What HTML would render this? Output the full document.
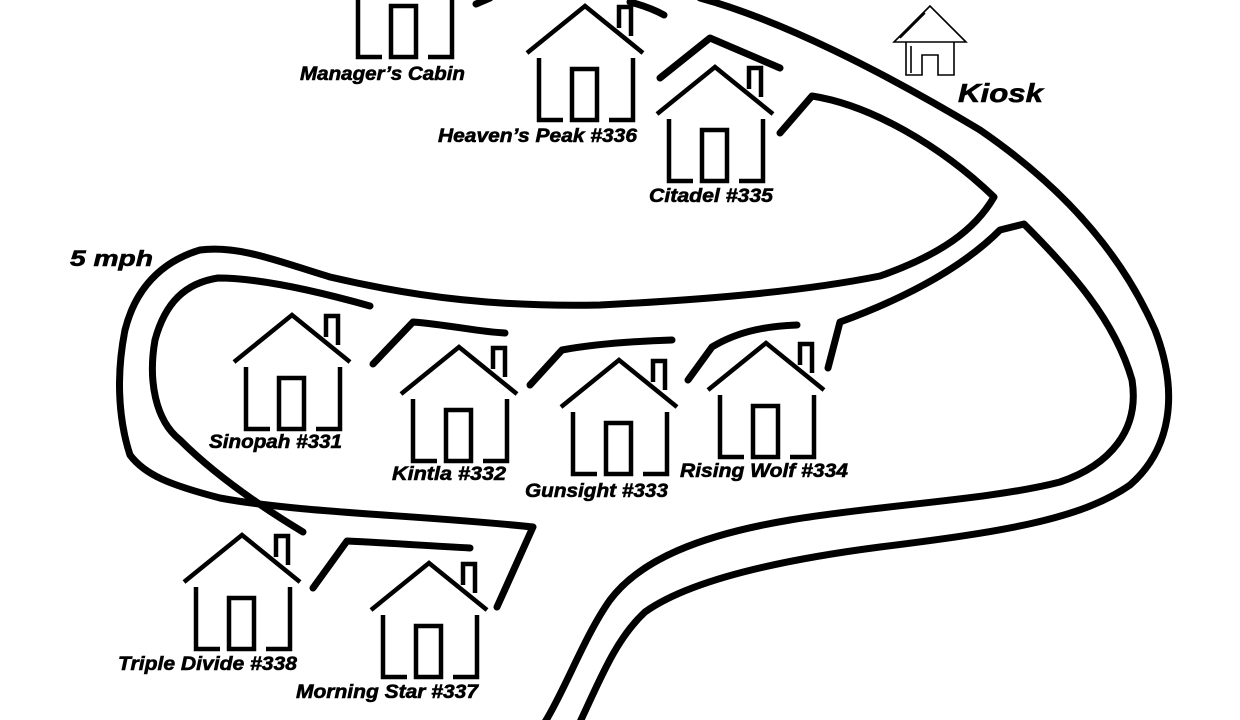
<!DOCTYPE html>
<html><head><meta charset="utf-8"><style>
html,body{margin:0;padding:0;background:#fff;}
svg{display:block;}
text{font-family:"Liberation Sans",sans-serif;font-weight:bold;font-style:italic;font-size:19px;fill:#000;stroke:#000;stroke-width:0.6;}
</style></head><body>
<svg width="1240" height="720" viewBox="0 0 1240 720" xmlns="http://www.w3.org/2000/svg">
<defs>
<g id="h" fill="none" stroke="#000" stroke-width="4.5">
<polyline points="-58,47 0,0 58,47" stroke-linejoin="miter"/>
<polyline points="34,22 34,1 46,1 46,30"/>
<polyline points="-46,52 -46,114 -22,114"/>
<polyline points="48,52 48,114 24,114"/>
<rect x="-13" y="63" width="25" height="51"/>
</g>
</defs>
<g fill="none" stroke="#000" stroke-width="7" stroke-linecap="round" stroke-linejoin="round">
<path d="M700,-2 C780,20 880,70 980,130 C1060,185 1120,250 1155,330 C1180,395 1170,450 1130,485 C1080,520 1000,532 880,547 C780,560 690,580 645,612 C615,640 600,680 580,722"/>
<path d="M828,368 L840,322 C900,300 960,270 1000,230 L1024,224 C1070,270 1115,320 1132,380 C1140,430 1110,465 1060,482 C990,500 880,505 790,520 C700,535 640,560 610,600 C585,635 565,690 545,722"/>
<path d="M780,133 L812,96 C870,105 940,145 994,197 C975,230 940,255 880,276 C800,292 700,300 600,305 C500,307 420,298 330,277 C280,262 240,245 200,250 C160,262 135,290 125,330 C117,370 117,415 130,455 C145,475 170,485 220,498 C300,513 420,515 533,527 L497,607"/>
<path d="M370,306 C320,292 260,278 218,278 C185,283 165,303 155,340 C148,380 155,420 180,440 C210,470 250,500 303,532"/>
<path d="M476,4 L490,-2"/>
<path d="M630,2 C645,6 655,10 664,15"/>
<path d="M660,78 L710,38 L780,68"/>
<path d="M373,364 L413,322 C450,325 480,332 505,333"/>
<path d="M530,385 L562,350 C600,343 640,341 672,340"/>
<path d="M688,380 L712,347 C740,330 770,326 797,325"/>
<path d="M313,588 L347,541 C390,543 430,546 470,548"/>
</g>
<use href="#h" x="404" y="-57"/>
<use href="#h" x="585" y="6"/>
<use href="#h" x="715" y="67"/>
<use href="#h" x="292" y="315"/>
<use href="#h" x="459" y="347"/>
<use href="#h" x="619" y="360"/>
<use href="#h" x="766" y="343"/>
<use href="#h" x="242" y="535"/>
<use href="#h" x="429" y="563"/>
<g fill="none" stroke="#000" stroke-width="1.6">
<polygon points="930,6 894,42 966,42"/>
<polyline points="906,42 906,75 922,75 922,55 938,55 938,75 954,75 954,42"/>
<line x1="911" y1="46" x2="911" y2="73"/>
<line x1="900" y1="38" x2="925" y2="13"/>
</g>
<g>
<text x="300" y="80" textLength="165" lengthAdjust="spacingAndGlyphs">Manager’s Cabin</text>
<text x="438" y="142" textLength="199" lengthAdjust="spacingAndGlyphs">Heaven’s Peak #336</text>
<text x="649" y="202" textLength="124" lengthAdjust="spacingAndGlyphs">Citadel #335</text>
<text x="958" y="102" style="font-size:26px" textLength="85" lengthAdjust="spacingAndGlyphs">Kiosk</text>
<text x="70" y="266" style="font-size:22px" textLength="83" lengthAdjust="spacingAndGlyphs">5 mph</text>
<text x="209" y="448" textLength="133" lengthAdjust="spacingAndGlyphs">Sinopah #331</text>
<text x="392" y="480" textLength="114" lengthAdjust="spacingAndGlyphs">Kintla #332</text>
<text x="525" y="497" textLength="143" lengthAdjust="spacingAndGlyphs">Gunsight #333</text>
<text x="680" y="477" textLength="168" lengthAdjust="spacingAndGlyphs">Rising Wolf  #334</text>
<text x="118" y="670" textLength="179" lengthAdjust="spacingAndGlyphs">Triple Divide #338</text>
<text x="296" y="698" textLength="182" lengthAdjust="spacingAndGlyphs">Morning Star #337</text>
</g>
</svg>
</body></html>
